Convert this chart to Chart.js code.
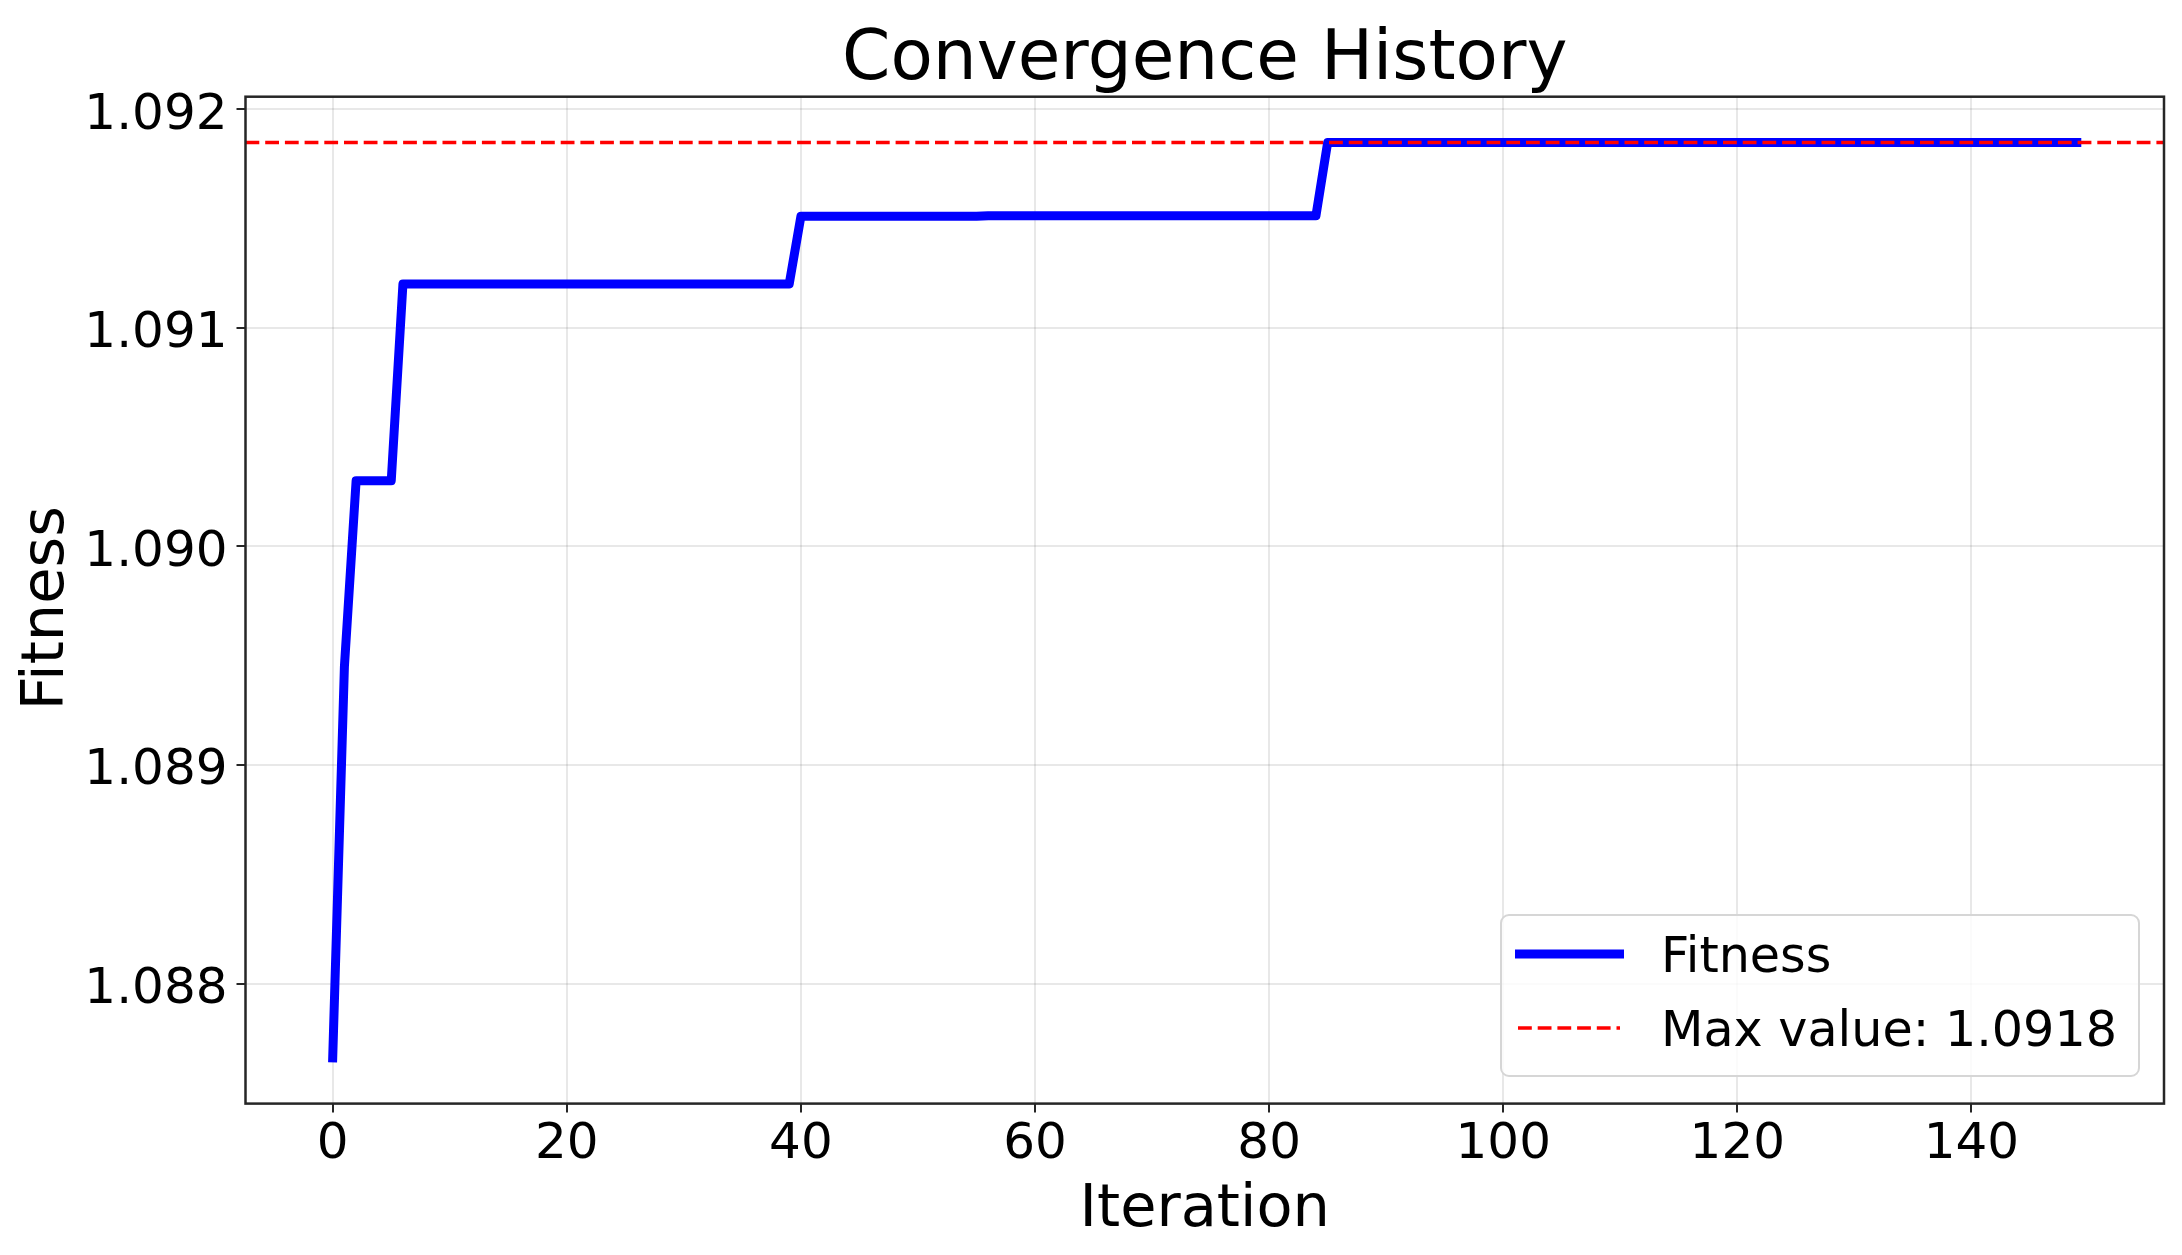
<!DOCTYPE html>
<html><head><meta charset="utf-8">
<script src="https://cdn.jsdelivr.net/npm/chart.js@4.4.1/dist/chart.umd.min.js"></script>
<style>
html,body{margin:0;padding:0;background:#fff;}
#wrap{position:relative;width:2182px;height:1255px;}
#c{position:absolute;left:0;top:0;}
#legend{position:absolute;left:1500px;top:914px;overflow:visible;}
</style></head><body>
<div id="wrap"><canvas id="c" width="2182" height="1255"></canvas>
<svg id="legend" width="640" height="163" xmlns="http://www.w3.org/2000/svg"></svg></div>
<script>
// ---- data ----
const fitness = [
  1.08766, 1.08945, 1.0903, 1.0903, 1.0903, 1.0903, 1.0912, 1.0912, 1.0912, 1.0912,
  1.0912, 1.0912, 1.0912, 1.0912, 1.0912, 1.0912, 1.0912, 1.0912, 1.0912, 1.0912,
  1.0912, 1.0912, 1.0912, 1.0912, 1.0912, 1.0912, 1.0912, 1.0912, 1.0912, 1.0912,
  1.0912, 1.0912, 1.0912, 1.0912, 1.0912, 1.0912, 1.0912, 1.0912, 1.0912, 1.0912,
  1.09151, 1.09151, 1.09151, 1.09151, 1.09151, 1.09151, 1.09151, 1.09151, 1.09151, 1.09151,
  1.09151, 1.09151, 1.09151, 1.09151, 1.09151, 1.09151, 1.091513, 1.091513, 1.091513, 1.091513,
  1.091513, 1.091513, 1.091513, 1.091513, 1.091513, 1.091513, 1.091513, 1.091513, 1.091513, 1.091513,
  1.091513, 1.091513, 1.091513, 1.091513, 1.091513, 1.091513, 1.091513, 1.091513, 1.091513, 1.091513,
  1.091513, 1.091513, 1.091513, 1.091513, 1.091513, 1.091848, 1.091848, 1.091848, 1.091848, 1.091848,
  1.091848, 1.091848, 1.091848, 1.091848, 1.091848, 1.091848, 1.091848, 1.091848, 1.091848, 1.091848,
  1.091848, 1.091848, 1.091848, 1.091848, 1.091848, 1.091848, 1.091848, 1.091848, 1.091848, 1.091848,
  1.091848, 1.091848, 1.091848, 1.091848, 1.091848, 1.091848, 1.091848, 1.091848, 1.091848, 1.091848,
  1.091848, 1.091848, 1.091848, 1.091848, 1.091848, 1.091848, 1.091848, 1.091848, 1.091848, 1.091848,
  1.091848, 1.091848, 1.091848, 1.091848, 1.091848, 1.091848, 1.091848, 1.091848, 1.091848, 1.091848,
  1.091848, 1.091848, 1.091848, 1.091848, 1.091848, 1.091848, 1.091848, 1.091848, 1.091848, 1.091848
];
const iterations = fitness.map((_, i) => i);
const maxValue = 1.091848;
const xTickValues = [0, 20, 40, 60, 80, 100, 120, 140];
const yTickValues = [1.088, 1.089, 1.090, 1.091, 1.092];
const titleText = 'Convergence History';
const xLabel = 'Iteration';
const yLabel = 'Fitness';
const seriesLabel = 'Fitness';
const maxLabel = 'Max value: ' + maxValue.toFixed(4);

// ---- axis limits (5% margins like the source) ----
const xMinD = Math.min(...iterations), xMaxD = Math.max(...iterations);
const yMinD = Math.min(...fitness, maxValue), yMaxD = Math.max(...fitness, maxValue);
const xPad = (xMaxD - xMinD) * 0.05, yPad = (yMaxD - yMinD) * 0.05;
const xMin = xMinD - xPad, xMax = xMaxD + xPad;
const yMin = yMinD - yPad, yMax = yMaxD + yPad;

const FONT = "'DejaVu Sans', sans-serif";

const framePlugin = {
  id: 'frame',
  afterDatasetsDraw(chart) {
    const {ctx, chartArea: a} = chart;
    ctx.save();
    ctx.strokeStyle = '#262626';
    ctx.lineWidth = 2.5;
    ctx.strokeRect(a.left, a.top, a.right - a.left, a.bottom - a.top);
    ctx.restore();
  }
};

// y-axis title drawn rotated, centred a little below the axes middle as in the source
const yTitlePlugin = {
  id: 'yTitle',
  afterDraw(chart) {
    const {ctx, chartArea: a} = chart;
    ctx.save();
    ctx.fillStyle = '#000';
    ctx.font = "59px 'DejaVu Sans', sans-serif";
    ctx.textAlign = 'center';
    ctx.textBaseline = 'middle';
    ctx.translate(48, (a.top + a.bottom) / 2 + 8);
    ctx.rotate(-Math.PI / 2);
    ctx.fillText(yLabel, 0, 0);
    ctx.restore();
  }
};

new Chart(document.getElementById('c'), {
  type: 'line',
  data: {
    datasets: [
      {
        label: seriesLabel,
        data: iterations.map((x, i) => ({x, y: fitness[i]})),
        borderColor: '#0000ff',
        borderWidth: 9,
        borderCapStyle: 'square',
        borderJoinStyle: 'round',
        pointRadius: 0,
        tension: 0,
        fill: false,
        order: 1
      },
      {
        label: maxLabel,
        data: [{x: xMin, y: maxValue}, {x: xMax, y: maxValue}],
        borderColor: '#ff0000',
        borderWidth: 3.5,
        borderDash: [13.8, 5.9],
        pointRadius: 0,
        fill: false,
        order: 0
      }
    ]
  },
  options: {
    responsive: false,
    animation: false,
    devicePixelRatio: 1,
    layout: {padding: {left: 0, right: 18, top: 0, bottom: 0}},
    plugins: {
      legend: {display: false},
      tooltip: {enabled: false},
      title: {
        display: true,
        text: titleText,
        fullSize: false,
        color: '#000',
        font: {family: FONT, size: 69.3, weight: 'normal', lineHeight: 1},
        padding: {top: 26.4, bottom: 1}
      }
    },
    scales: {
      x: {
        type: 'linear',
        min: xMin, max: xMax,
        afterFit(scale) { scale.height = 151.4; },
        afterBuildTicks(scale) { scale.ticks = xTickValues.map(v => ({value: v})); },
        grid: {color: 'rgba(0,0,0,0.09)', lineWidth: 2, tickColor: '#262626', tickWidth: 2, tickLength: 9, drawTicks: true},
        border: {display: false},
        ticks: {color: '#000', font: {family: FONT, size: 50, lineHeight: 1.2}, padding: 2, maxRotation: 0, autoSkip: false,
          callback: v => String(v)},
        title: {display: true, text: xLabel, color: '#000', font: {family: FONT, size: 59, lineHeight: 1.2}, padding: {top: 0, bottom: 8.6}}
      },
      y: {
        type: 'linear',
        min: yMin, max: yMax,
        afterFit(scale) { scale.width = 245.5; },
        afterBuildTicks(scale) { scale.ticks = yTickValues.map(v => ({value: v})); },
        grid: {color: 'rgba(0,0,0,0.09)', lineWidth: 2, tickColor: '#262626', tickWidth: 2, tickLength: 9, drawTicks: true},
        border: {display: false},
        ticks: {color: '#000', font: {family: FONT, size: 50, lineHeight: 1.2}, padding: 9, labelOffset: 6.5, autoSkip: false,
          callback: v => v.toFixed(3)},
        title: {display: false, text: yLabel}
      }
    }
  },
  plugins: [framePlugin, yTitlePlugin]
});

// ---- legend (real SVG text) ----
const NS = 'http://www.w3.org/2000/svg';
const svg = document.getElementById('legend');
function el(tag, attrs, text) {
  const e = document.createElementNS(NS, tag);
  for (const k in attrs) e.setAttribute(k, attrs[k]);
  if (text !== undefined) e.textContent = text;
  svg.appendChild(e);
  return e;
}
el('rect', {x: 1, y: 1, width: 638, height: 161, rx: 8, ry: 8, fill: 'rgba(255,255,255,0.8)', stroke: '#d6d6d6', 'stroke-width': 2});
el('line', {x1: 15, x2: 124, y1: 40, y2: 40, stroke: '#0000ff', 'stroke-width': 9});
el('text', {x: 161, y: 58, 'font-family': 'DejaVu Sans', 'font-size': 49.2, fill: '#000'}, seriesLabel);
el('line', {x1: 18, x2: 120, y1: 114, y2: 114, stroke: '#ff0000', 'stroke-width': 3.5, 'stroke-dasharray': '13.8 5.9'});
el('text', {x: 161, y: 132, 'font-family': 'DejaVu Sans', 'font-size': 49.2, fill: '#000'}, maxLabel);
</script>
</body></html>
